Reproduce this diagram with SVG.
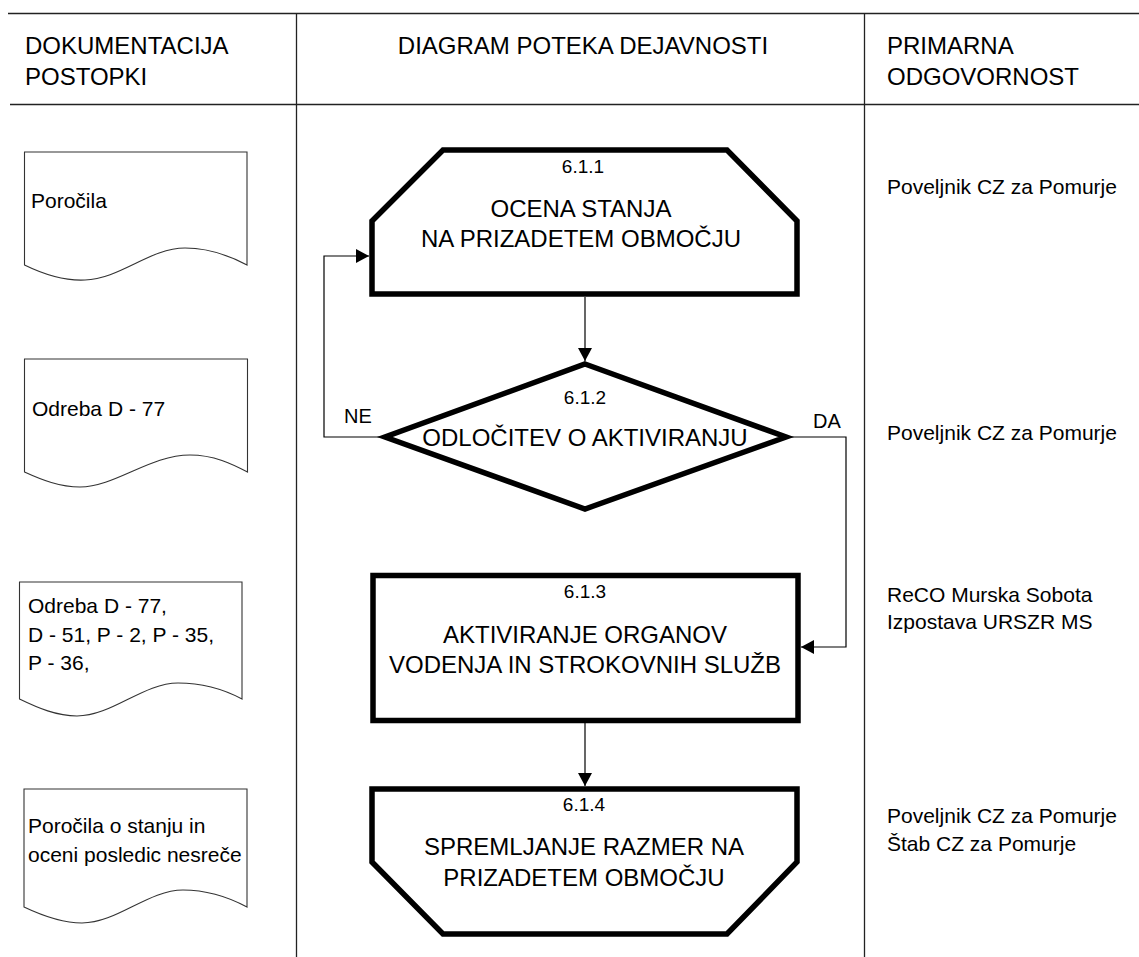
<svg xmlns="http://www.w3.org/2000/svg" width="1139" height="957" viewBox="0 0 1139 957">
<style>
text{font-family:"Liberation Sans",Arial,sans-serif;fill:#000}
.hd{font-size:24px}
.lbl{font-size:24px;text-anchor:middle}
.num{font-size:19px;text-anchor:middle}
.doc{font-size:21px}
.resp{font-size:21px}
.yn{font-size:20px}
.grid{stroke:#222;stroke-width:1.3;fill:none}
.docshape{fill:#fff;stroke:#333;stroke-width:1.1}
.thick{fill:#fff;stroke:#000;stroke-width:5.5;stroke-linejoin:miter;stroke-miterlimit:10}
.conn{fill:none;stroke:#000;stroke-width:1.2}
</style>
<defs>
<marker id="arr" viewBox="0 0 13 14" refX="13" refY="7" markerWidth="13" markerHeight="14" markerUnits="userSpaceOnUse" orient="auto">
<path d="M0,0 L13,7 L0,14 Z" fill="#000"/>
</marker>
</defs>
<rect width="1139" height="957" fill="#fff"/>
<g id="grid">
<line class="grid" x1="8" y1="13.5" x2="1139" y2="13.5"/>
<line class="grid" x1="10" y1="104.5" x2="1139" y2="104.5"/>
<line class="grid" x1="296.5" y1="13" x2="296.5" y2="957"/>
<line class="grid" x1="864.5" y1="13" x2="864.5" y2="957"/>
</g>
<g id="headers">
<text class="hd" x="25" y="54">DOKUMENTACIJA</text>
<text class="hd" x="25" y="85">POSTOPKI</text>
<text class="hd" x="583" y="54" text-anchor="middle">DIAGRAM POTEKA DEJAVNOSTI</text>
<text class="hd" x="887" y="54">PRIMARNA</text>
<text class="hd" x="887" y="85">ODGOVORNOST</text>
</g>
<g id="doc1">
<path class="docshape" d="M24.5,152 H247 V265 C232,257 212,248 185,248 C150,248 120,279 85,280 C65,281 45,275 24.5,265 Z"/>
<text class="doc" x="31" y="208">Poročila</text>
</g>
<g id="doc2">
<path class="docshape" d="M24.5,359 H247.5 V472 C232,464 214,455 190,455 C150,455 115,487 80,487 C60,487 42,480 24.5,472 Z"/>
<text class="doc" x="32" y="416">Odreba D - 77</text>
</g>
<g id="doc3">
<path class="docshape" d="M19.5,582 H242 V699 C227,691 205,683 178,683 C143,683 112,716 77,716 C57,716 38,708 19.5,699 Z"/>
<text class="doc" x="28" y="613">Odreba D - 77,</text>
<text class="doc" x="28" y="642">D - 51, P - 2, P - 35,</text>
<text class="doc" x="28" y="670">P - 36,</text>
</g>
<g id="doc4">
<path class="docshape" d="M24,789 H247 V907 C232,899 210,890 183,890 C148,890 117,923 82,923 C62,923 43,916 24,907 Z"/>
<text class="doc" x="28" y="833">Poročila o stanju in</text>
<text class="doc" x="28" y="862">oceni posledic nesreče</text>
</g>
<g id="connectors">
<line class="conn" x1="585" y1="297" x2="585" y2="361" marker-end="url(#arr)"/>
<polyline class="conn" points="380,437 324,437 324,256 369,256" marker-end="url(#arr)"/>
<polyline class="conn" points="790,437 846,437 846,647 801,647" marker-end="url(#arr)"/>
<line class="conn" x1="585" y1="723" x2="585" y2="786" marker-end="url(#arr)"/>
<text class="yn" x="344" y="423">NE</text>
<text class="yn" x="813" y="428">DA</text>
</g>
<g id="n611">
<polygon class="thick" points="372,221 443,150 727,150 797,221 797,294 372,294"/>
<text class="num" x="583" y="173">6.1.1</text>
<text class="lbl" x="581" y="217">OCENA STANJA</text>
<text class="lbl" x="581" y="247">NA PRIZADETEM OBMOČJU</text>
</g>
<g id="n612">
<polygon class="thick" points="585,364 786,437 585,509 385,437"/>
<text class="num" x="585" y="404">6.1.2</text>
<text class="lbl" x="585" y="446">ODLOČITEV O AKTIVIRANJU</text>
</g>
<g id="n613">
<rect class="thick" x="373" y="575.5" width="425" height="145"/>
<text class="num" x="585" y="598">6.1.3</text>
<text class="lbl" x="585" y="643">AKTIVIRANJE ORGANOV</text>
<text class="lbl" x="585" y="673">VODENJA IN STROKOVNIH SLUŽB</text>
</g>
<g id="n614">
<polygon class="thick" points="372,789 797,789 797,862 727,934 443,934 372,862"/>
<text class="num" x="584" y="811">6.1.4</text>
<text class="lbl" x="584" y="855">SPREMLJANJE RAZMER NA</text>
<text class="lbl" x="584" y="886">PRIZADETEM OBMOČJU</text>
</g>
<g id="responsibility">
<text class="resp" x="887" y="194">Poveljnik CZ za Pomurje</text>
<text class="resp" x="887" y="440">Poveljnik CZ za Pomurje</text>
<text class="resp" x="887" y="602">ReCO Murska Sobota</text>
<text class="resp" x="887" y="629">Izpostava URSZR MS</text>
<text class="resp" x="887" y="823">Poveljnik CZ za Pomurje</text>
<text class="resp" x="887" y="851">Štab CZ za Pomurje</text>
</g>
</svg>
